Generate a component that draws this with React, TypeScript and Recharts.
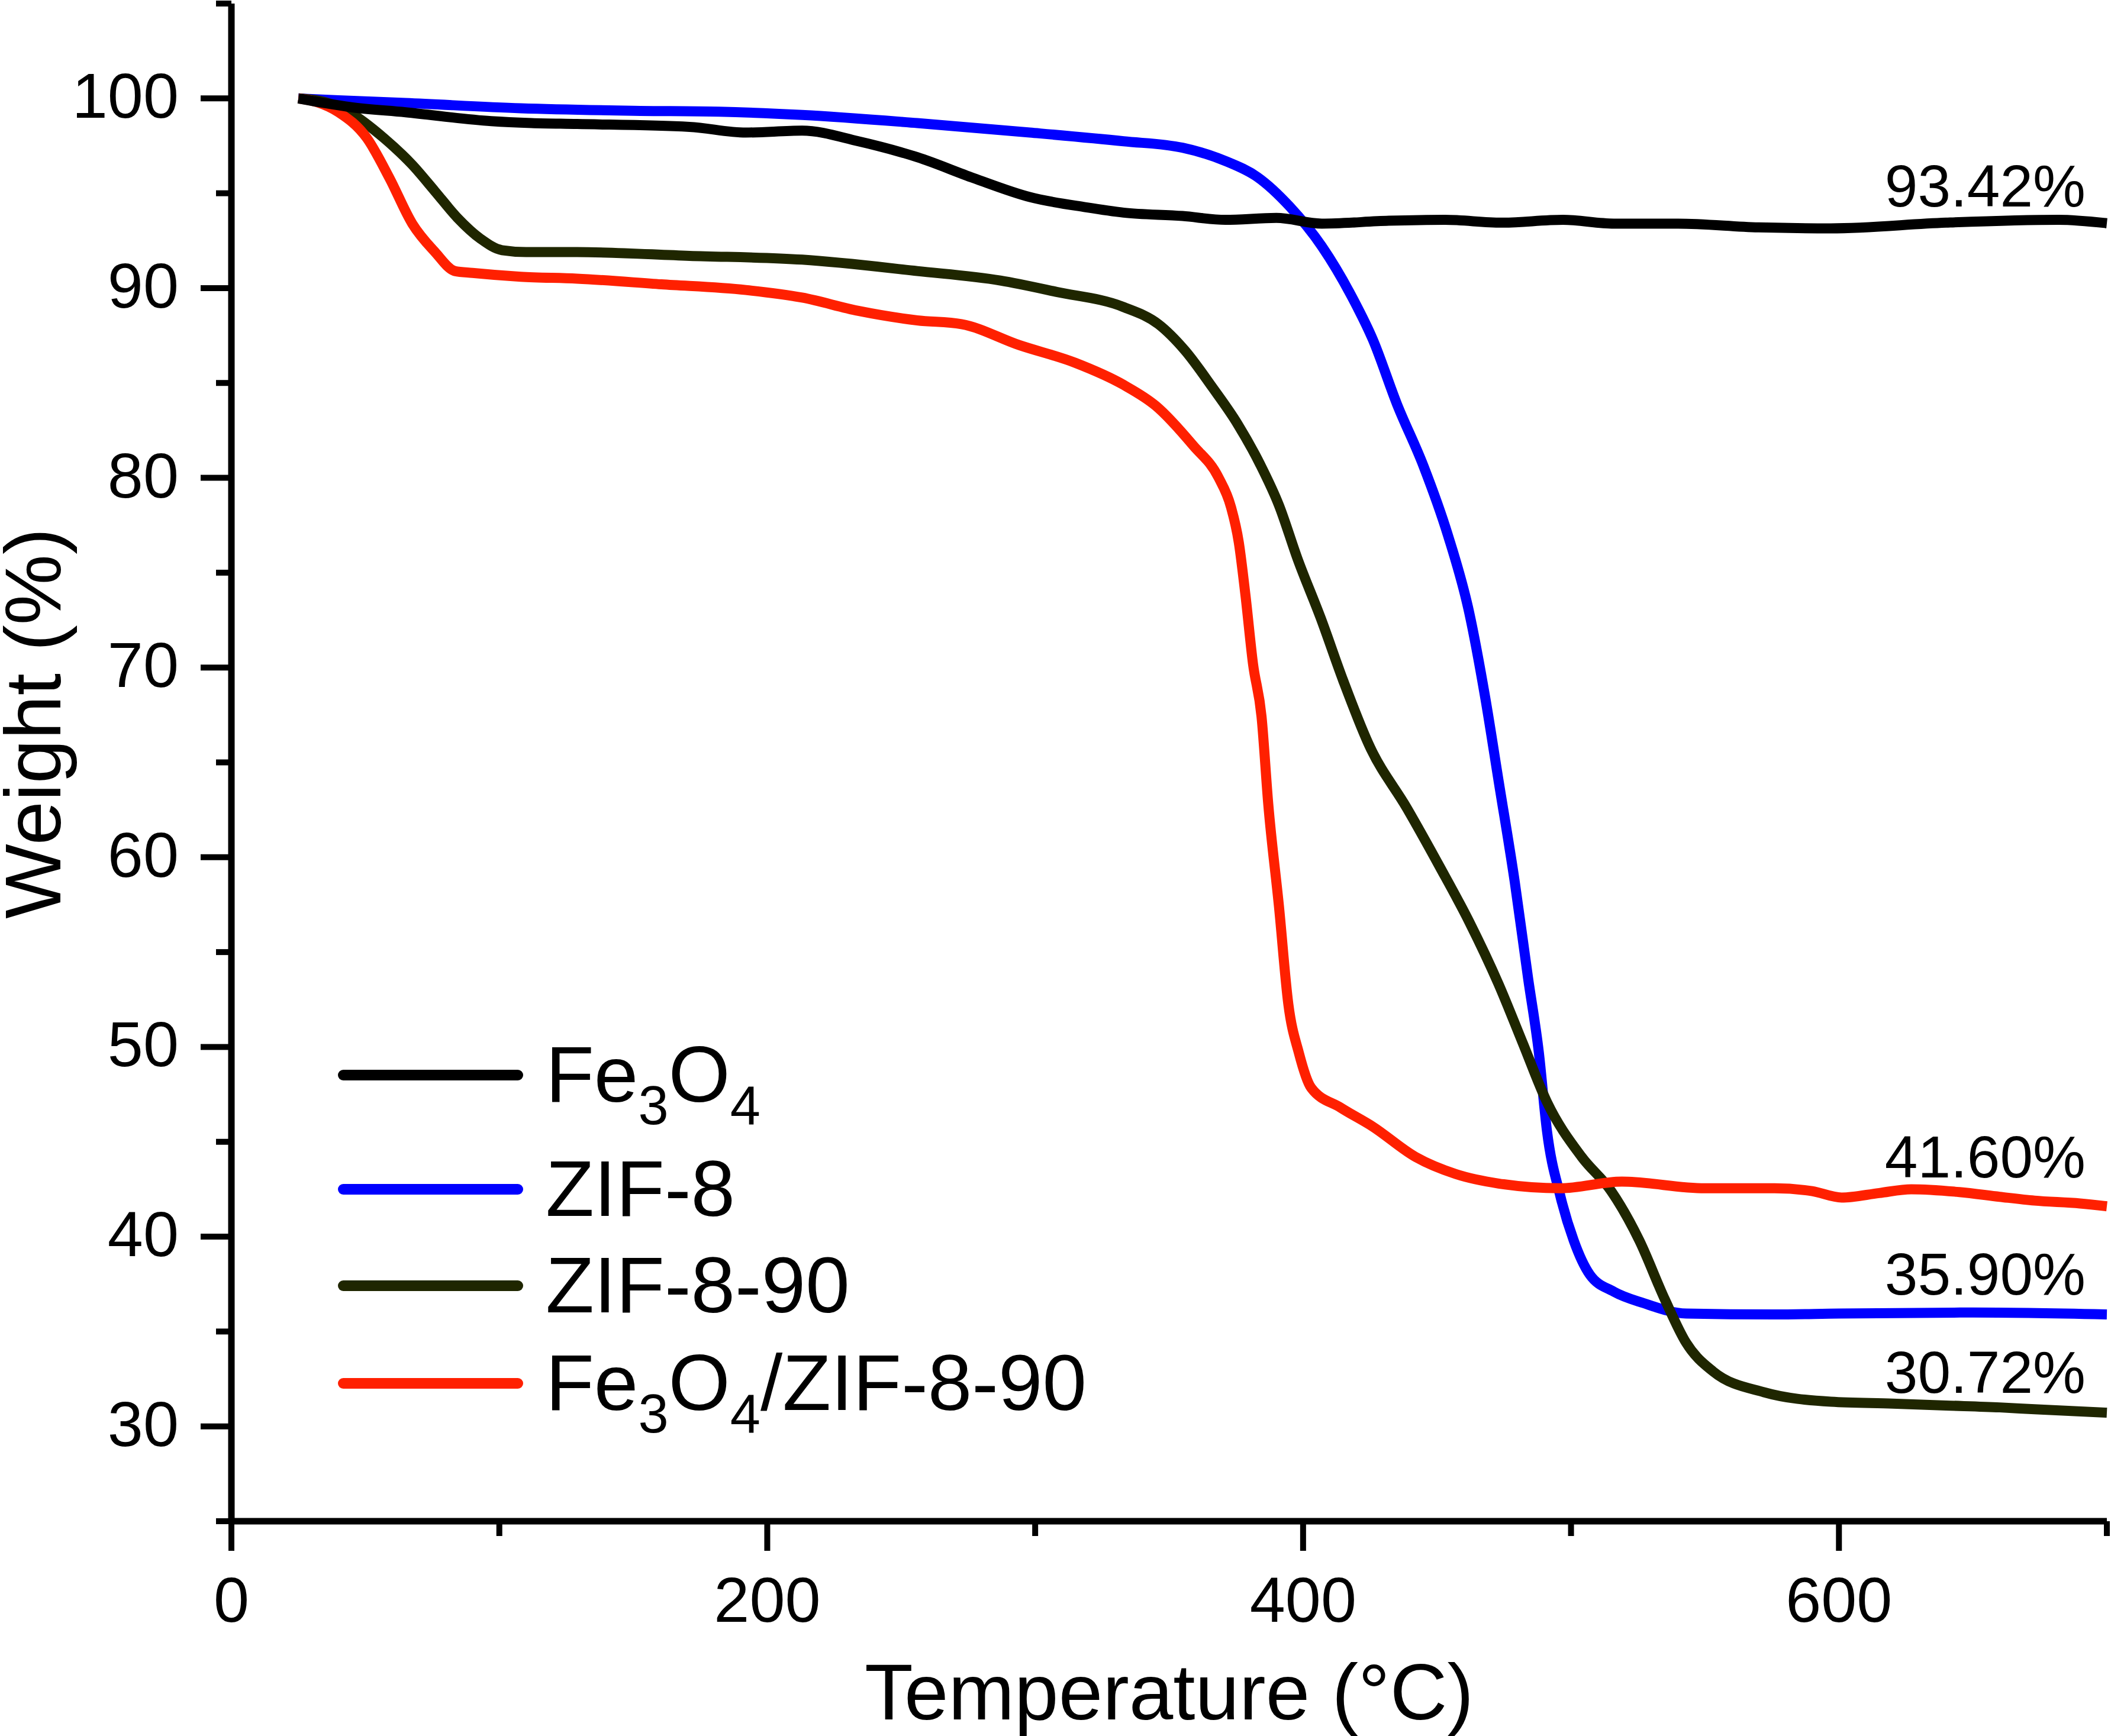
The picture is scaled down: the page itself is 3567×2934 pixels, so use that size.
import { LineChart, Line, XAxis, YAxis, Legend, ReferenceDot } from 'recharts'

const FONT = '"Liberation Sans", Arial, Helvetica, sans-serif'

// TGA curves: temperature (°C) vs. remaining weight (%)
const fe3o4Temp = [25, 35, 44, 65, 97, 112, 129, 171, 192, 213, 234, 256, 277, 298, 319, 333, 355, 371, 390, 407, 432, 453, 474, 497, 516, 540, 570, 597, 640, 682, 700]
const fe3o4Weight = [100, 99.75, 99.55, 99.27, 98.8, 98.7, 98.65, 98.5, 98.2, 98.3, 97.74, 96.9, 95.8, 94.8, 94.26, 93.98, 93.8, 93.6, 93.7, 93.4, 93.55, 93.6, 93.45, 93.6, 93.4, 93.4, 93.2, 93.15, 93.45, 93.6, 93.42]

const zif8Temp = [25, 40, 65, 108, 150, 182, 213, 256, 298, 333, 355, 371, 383, 395, 407, 418, 426, 435, 445, 454, 462, 468, 473, 479, 484, 488, 491, 496, 501, 507, 516, 527, 543, 576, 600, 650, 700]
const zif8Weight = [100, 99.9, 99.76, 99.48, 99.35, 99.3, 99.13, 98.7, 98.2, 97.74, 97.4, 96.7, 95.85, 94.3, 92.2, 89.6, 87.3, 83.9, 80.6, 77.0, 72.9, 68.4, 64.0, 58.7, 53.6, 49.7, 45.6, 42.15, 39.8, 38.0, 37.1, 36.5, 35.95, 35.9, 35.95, 36.0, 35.9]

const zif890Temp = [25, 35, 44, 57, 67.5, 76, 84.4, 93, 101, 110, 129, 171, 213, 256, 287, 308, 333, 346, 356, 366, 375.5, 384, 391, 398, 406.6, 415, 425, 438.7, 451, 462, 473, 482, 491, 504, 515, 525.5, 535, 543, 553, 572, 597, 620, 640, 660, 673, 700]
const zif890Weight = [100, 99.8, 99.27, 97.9, 96.5, 95.1, 93.7, 92.6, 92.0, 91.9, 91.9, 91.7, 91.5, 90.9, 90.4, 89.8, 89.0, 88.1, 86.7, 84.8, 82.85, 80.7, 78.55, 75.7, 72.6, 69.3, 65.8, 62.6, 59.5, 56.6, 53.3, 50.2, 47.1, 44.2, 42.4, 39.8, 36.7, 34.4, 32.9, 31.8, 31.3, 31.2, 31.1, 31.0, 30.9, 30.72]

const compTemp = [25, 32, 40, 50.6, 59, 67.5, 76, 83.4, 90, 108, 129, 160.5, 192, 213, 234, 256, 272.5, 294, 315, 333, 345, 359, 368.5, 373, 376, 378.5, 381.3, 384.5, 387, 391, 394.5, 398.4, 403, 414, 426, 442, 457, 473, 496, 519, 550, 576, 590, 601, 615, 627, 645, 660, 673, 690, 700]
const compWeight = [100, 99.8, 99.27, 97.9, 95.8, 93.4, 91.9, 90.9, 90.8, 90.6, 90.5, 90.2, 89.9, 89.5, 88.8, 88.3, 88.1, 87.0, 86.06, 84.9, 83.8, 81.7, 80.0, 78.5, 76.6, 73.8, 70.2, 67.4, 62.8, 57.4, 52.25, 49.7, 47.85, 46.8, 45.8, 44.2, 43.3, 42.8, 42.55, 42.9, 42.55, 42.55, 42.4, 42.06, 42.3, 42.5, 42.35, 42.1, 41.9, 41.75, 41.6]

const xTicks = [0, 100, 200, 300, 400, 500, 600, 700]
const yTicks = [25, 30, 35, 40, 45, 50, 55, 60, 65, 70, 75, 80, 85, 90, 95, 100, 105]

const toPoints = (t: number[], w: number[]) => t.map((v, i) => ({ t: v, w: w[i] }))

// legend order
const series = [
  { name: 'Fe3O4', color: '#000000', data: toPoints(fe3o4Temp, fe3o4Weight), lift: 28 },
  { name: 'ZIF-8', color: '#0000FF', data: toPoints(zif8Temp, zif8Weight), lift: 34 },
  { name: 'ZIF-8-90', color: '#1F2600', data: toPoints(zif890Temp, zif890Weight), lift: 34 },
  { name: 'Fe3O4/ZIF-8-90', color: '#FF2000', data: toPoints(compTemp, compWeight), lift: 49 },
]
// paint order of the curves (last one on top)
const drawOrder = ['ZIF-8', 'ZIF-8-90', 'Fe3O4/ZIF-8-90', 'Fe3O4']

const LEGEND_ROWS = [117, 310, 473, 638]

// digits right after a letter become subscripts: Fe3O4 -> Fe₃O₄
function Formula({ label, size }: { label: string; size: number }) {
  const parts = label.split(/(?<=[A-Za-z])(\d+)/)
  const shift = Math.round(size * 0.28)
  return (
    <>
      {parts.map((p, i) =>
        i % 2 ? (
          <tspan key={i} dy={shift} fontSize={Math.round(size * 0.69)}>{p}</tspan>
        ) : (
          <tspan key={i} dy={i ? -shift : 0}>{p}</tspan>
        )
      )}
    </>
  )
}

function XTick(props: any) {
  const { x, y, payload } = props
  const major = payload.value % 200 === 0
  return (
    <g>
      <line x1={x} x2={x} y1={y} y2={y + (major ? 50 : 25)} stroke="#000" strokeWidth={10} />
      {major && (
        <text x={x} y={y + 170} textAnchor="middle" fontSize={108} fontFamily={FONT} fill="#000">
          {payload.value}
        </text>
      )}
    </g>
  )
}

function YTick(props: any) {
  const { x, y, payload } = props
  const major = payload.value % 10 === 0
  return (
    <g>
      <line x1={x} x2={x - (major ? 52 : 26)} y1={y} y2={y} stroke="#000" strokeWidth={10} />
      {major && (
        <text x={x - 89} y={y + 33} textAnchor="end" fontSize={108} fontFamily={FONT} fill="#000">
          {payload.value}
        </text>
      )}
    </g>
  )
}

function LegendBox({ payload }: any) {
  const order = series.map((s) => s.name)
  const items = [...(payload ?? [])].sort((a, b) => order.indexOf(a.value) - order.indexOf(b.value))
  return (
    <svg width={1400} height={760}>
      {items.map((entry: any, i: number) => (
        <g key={entry.value}>
          <line x1={80} x2={375} y1={LEGEND_ROWS[i]} y2={LEGEND_ROWS[i]} stroke={entry.color} strokeWidth={18} strokeLinecap="round" />
          <text x={422} y={LEGEND_ROWS[i] + 45} fontSize={134} fontFamily={FONT} fill="#000">
            <Formula label={entry.value} size={134} />
          </text>
        </g>
      ))}
    </svg>
  )
}

export default function App() {
  return (
    <div style={{ width: 3567, height: 2934, background: '#fff' }}>
      <style>{'body{margin:0}'}</style>
      <LineChart width={3567} height={2934} margin={{ top: 6, right: 7, bottom: 0, left: 0 }}>
        <XAxis
          type="number"
          dataKey="t"
          domain={[0, 700]}
          ticks={xTicks}
          interval={0}
          height={363}
          tickSize={0}
          tickMargin={0}
          tickLine={false}
          axisLine={{ stroke: '#000', strokeWidth: 11 }}
          tick={XTick}
          label={(p: any) => {
            const vb = p.viewBox
            return (
              <text x={vb.x + vb.width / 2} y={vb.y + 335} textAnchor="middle" fontSize={134} fontFamily={FONT} fill="#000">
                Temperature (°C)
              </text>
            )
          }}
        />
        <XAxis xAxisId="top" orientation="top" type="number" domain={[0, 700]} height={0} tick={false} tickLine={false} axisLine={{ stroke: '#000', strokeWidth: 11 }} />
        <YAxis
          type="number"
          dataKey="w"
          domain={[25, 105]}
          ticks={yTicks}
          interval={0}
          width={391}
          tickSize={0}
          tickMargin={0}
          tickLine={false}
          axisLine={{ stroke: '#000', strokeWidth: 11 }}
          tick={YTick}
          label={(p: any) => {
            const vb = p.viewBox
            const cy = vb.y + vb.height / 2 - 66
            return (
              <text x={102} y={cy} transform={`rotate(-90 102 ${cy})`} textAnchor="middle" fontSize={134} fontFamily={FONT} fill="#000">
                Weight (%)
              </text>
            )
          }}
        />
        <YAxis yAxisId="right" orientation="right" type="number" domain={[25, 105]} width={0} tick={false} tickLine={false} axisLine={{ stroke: '#000', strokeWidth: 11 }} />

        {drawOrder.map((name) => {
          const s = series.find((d) => d.name === name)!
          return (
            <Line
              key={s.name}
              data={s.data}
              dataKey="w"
              name={s.name}
              type="monotone"
              stroke={s.color}
              strokeWidth={17}
              strokeLinejoin="round"
              dot={false}
              activeDot={false}
              isAnimationActive={false}
            />
          )
        })}

        {series.map((s) => {
          const last = s.data[s.data.length - 1]
          return (
            <ReferenceDot
              key={`end-${s.name}`}
              x={last.t}
              y={last.w}
              r={0}
              fill="none"
              stroke="none"
              ifOverflow="visible"
              label={(p: any) => {
                const vb = p.viewBox
                return (
                  <text x={vb.x - 36} y={vb.y - s.lift} textAnchor="end" fontSize={100} fontFamily={FONT} fill="#000">
                    {`${last.w.toFixed(2)}%`}
                  </text>
                )
              }}
            />
          )
        })}

        <Legend
          layout="vertical"
          align="center"
          verticalAlign="middle"
          wrapperStyle={{ position: 'absolute', left: 500, top: 1700, width: 1400, height: 760, margin: 0 }}
          content={LegendBox}
        />
      </LineChart>
    </div>
  )
}
